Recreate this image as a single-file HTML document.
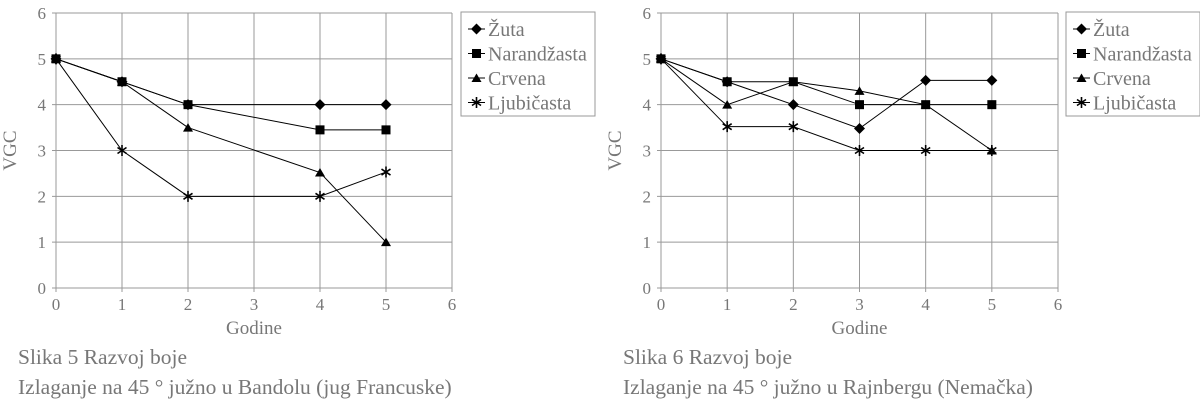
<!DOCTYPE html>
<html><head><meta charset="utf-8"><style>
body{margin:0;width:1200px;height:401px;background:#fff;overflow:hidden}
svg{position:absolute;left:0;top:0}
text{font-family:"Liberation Serif",serif;fill:#777}
</style></head><body>
<svg id="s" width="1200" height="401"></svg>
<script>
const xTicks=[0,1,2,3,4,5,6];
const yTicks=[0,1,2,3,4,5,6];
const seriesNames=["Žuta","Narandžasta","Crvena","Ljubičasta"];
const markers=["diamond","square","triangle","star"];
// chart 1 (Bandol)
const c1x=[0,1,2,4,5];
const c1Zuta=[5,4.5,4,4,4];
const c1Nar=[5,4.5,4,3.45,3.45];
const c1Crv=[5,4.5,3.5,2.52,1];
const c1Lju=[5,3,2,2,2.53];
// chart 2 (Rajnberg)
const c2x=[0,1,2,3,4,5];
const c2Zuta=[5,4.5,4,3.48,4.53,4.53];
const c2Nar=[5,4.5,4.5,4,4,4];
const c2Crv=[5,4,4.5,4.3,4,3];
const c2Lju=[5,3.52,3.52,3,3,3];
const captions1=["Slika 5 Razvoj boje","Izlaganje na 45 ° južno u Bandolu (jug Francuske)"];
const captions2=["Slika 6 Razvoj boje","Izlaganje na 45 ° južno u Rajnbergu (Nemačka)"];

const NS="http://www.w3.org/2000/svg";
const svg=document.getElementById('s');
function mk(tag,attrs,parent){const e=document.createElementNS(NS,tag);for(const k in attrs)e.setAttribute(k,attrs[k]);(parent||svg).appendChild(e);return e;}
function marker(g,type,x,y){
  let e;
  if(type==="diamond")e=mk('polygon',{points:`${x},${y-5.5} ${x+5.5},${y} ${x},${y+5.5} ${x-5.5},${y}`,fill:'#000'},g);
  else if(type==="square")e=mk('rect',{x:x-4.5,y:y-4.5,width:9,height:9,fill:'#000'},g);
  else if(type==="triangle")e=mk('polygon',{points:`${x},${y-4.5} ${x+5},${y+4} ${x-5},${y+4}`,fill:'#000'},g);
  else{e=mk('path',{d:`M${x},${y-5.5}V${y+5.5}M${x-4.5},${y-3}L${x+4.5},${y+3}M${x-4.5},${y+3}L${x+4.5},${y-3}`,stroke:'#000','stroke-width':1.6,fill:'none'},g);}
  
  
}
function chart(id,x0,x1,xs,series,legX,legW,caps){
  const y0=288,y1=13;
  const g=mk('g',{});
  
  
  const sx=v=>x0+(x1-x0)*v/6, sy=v=>y0-(y0-y1)*v/6;
  xTicks.forEach(t=>{
    mk('line',{x1:sx(t),x2:sx(t),y1:y1,y2:y0+4,stroke:'#999','stroke-width':1},g);
    const tx=mk('text',{x:sx(t),y:y0+22,'text-anchor':'middle','font-size':17},g);tx.textContent=t;
    
    
  });
  yTicks.forEach(t=>{
    mk('line',{x1:x0-4,x2:x1,y1:sy(t),y2:sy(t),stroke:'#999','stroke-width':1},g);
    const tx=mk('text',{x:x0-10,y:sy(t)+6,'text-anchor':'end','font-size':17},g);tx.textContent=t;
    
    
  });
  const xt=mk('text',{x:(x0+x1)/2,y:334,'text-anchor':'middle','font-size':19},g);xt.textContent="Godine";
  
  
  const yt=mk('text',{x:0,y:0,'text-anchor':'middle','font-size':19,transform:`translate(${x0-40},${(y0+y1)/2}) rotate(-90)`},g);yt.textContent="VGC";
  
  
  series.forEach((vals,i)=>{
    const pts=vals.map((v,j)=>sx(xs[j])+','+sy(v)).join(' ');
    const pl=mk('polyline',{points:pts,fill:'none',stroke:'#000','stroke-width':1},g);
    
    
    vals.forEach((v,j)=>marker(g,markers[i],sx(xs[j]),sy(v)));
  });
  const lg=mk('g',{},g);
  
  
  mk('rect',{x:legX,y:12,width:legW,height:104,fill:'#fff',stroke:'#999','stroke-width':1},lg);
  seriesNames.forEach((n,i)=>{
    const yy=29+i*24.5;
    mk('line',{x1:legX+7,x2:legX+24,y1:yy,y2:yy,stroke:'#000'},lg);
    marker(lg,markers[i],legX+15.5,yy);
    const t=mk('text',{x:legX+27,y:yy+7,'font-size':20},lg);t.textContent=n;
    
    
  });
  caps.forEach((c,i)=>{
    const t=mk('text',{x:x0-38,y:364+i*30,'font-size':21.5},g);t.textContent=c;
    
    
  });
}
chart('chart-bandol',56,452,c1x,[c1Zuta,c1Nar,c1Crv,c1Lju],461,134,captions1);
chart('chart-rajnberg',661,1058,c2x,[c2Zuta,c2Nar,c2Crv,c2Lju],1066,134,captions2);
</script>
</body></html>
